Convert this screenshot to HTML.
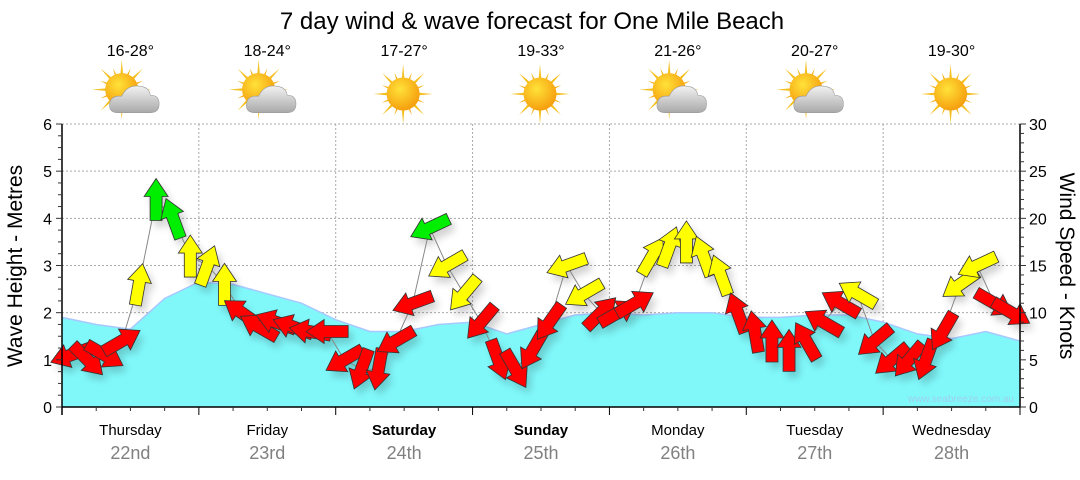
<!DOCTYPE html>
<html><head><meta charset="utf-8"><style>
body{margin:0;background:#fff;font-family:"Liberation Sans",Arial,sans-serif}
svg text{font-family:"Liberation Sans",Arial,sans-serif}
</style></head><body>
<svg id="c" width="1080" height="475" viewBox="0 0 1080 475" xmlns="http://www.w3.org/2000/svg">
<defs>
<radialGradient id="sunG" cx="0.4" cy="0.35" r="0.7"><stop offset="0" stop-color="#ffe23a"/><stop offset="1" stop-color="#f59a0a"/></radialGradient>
<linearGradient id="cloudG" x1="0" y1="0" x2="0" y2="1"><stop offset="0" stop-color="#f2f2f2"/><stop offset="1" stop-color="#a9a9a9"/></linearGradient>
<filter id="sh" x="-50%" y="-50%" width="200%" height="200%"><feGaussianBlur stdDeviation="4"/></filter>
</defs>
<text x="532" y="29" font-size="24" text-anchor="middle" fill="#000">7 day wind &amp; wave forecast for One Mile Beach</text>
<g id="grid"></g>
<g id="wave"></g>
<g id="shadows" opacity="0.18"></g>
<g id="windline"></g>
<g id="arrows"></g>
<g id="axes"></g>
<g id="topg"></g>
<text x="1014" y="402" font-size="10" text-anchor="end" fill="#9fd0ee">www.seabreeze.com.au</text>
<text transform="translate(22,266) rotate(-90)" font-size="21" text-anchor="middle">Wave Height - Metres</text>
<text transform="translate(1060,266) rotate(90)" font-size="21" text-anchor="middle">Wind Speed - Knots</text>
</svg>
<script>
const days=["Thursday","Friday","Saturday","Sunday","Monday","Tuesday","Wednesday"];
const dates=["22nd","23rd","24th","25th","26th","27th","28th"];
const temps=["16-28°","18-24°","17-27°","19-33°","21-26°","20-27°","19-30°"];
const cloudy=[1,1,0,0,1,1,0];
const boldDays=[0,0,1,1,0,0,0];
const waveHeights=[1.9,1.75,1.65,2.3,2.65,2.6,2.4,2.2,1.85,1.6,1.6,1.75,1.8,1.55,1.75,1.95,2.0,1.95,2.0,2.0,1.9,1.9,1.95,1.95,1.8,1.55,1.45,1.6,1.4];
const windSpeeds=[5.5,5,5.5,7,13,22,20,16, 15,13,10,8.5,9,8.5,8,8, 5,4,4,7,11,19,15,12, 9,5,4,6,9,15,12,10, 10,11,16,17,17.5,16,14,10, 8,7,6,7,9,11,12,7, 5,5,5,8,13,15,11,10];
const windDirs=[250,135,120,60,10,0,340,0, 20,0,305,300,290,290,280,270, 240,200,190,240,250,245,240,220, 220,160,150,210,215,250,240,45, 60,60,30,20,0,340,340,340, 350,0,0,330,300,300,300,230, 230,220,200,210,235,245,120,120];
const waveTicks=[0,1,2,3,4,5,6];
const windTicks=[0,5,10,15,20,25,30];

const NS="http://www.w3.org/2000/svg";
const X0=62,X1=1020,Y0=407,Y1=124,DW=(X1-X0)/7;
const xDay=d=>X0+d*DW;
const yWave=v=>Y0-(v/6)*(Y0-Y1);
const yWind=v=>Y0-(v/30)*(Y0-Y1);
const xSlot=i=>X0+(i+0.5)*DW/8;
const xWave=i=>X0+i*(X1-X0)/(waveHeights.length-1);
function mk(tag,attrs,parent,txt){const e=document.createElementNS(NS,tag);for(const k in attrs)e.setAttribute(k,attrs[k]);if(txt!==undefined)e.textContent=txt;parent.appendChild(e);return e;}
const G=id=>document.getElementById(id);

for(const t of waveTicks){if(t===0)continue;const l=mk('line',{x1:X0,x2:X1,y1:yWave(t),y2:yWave(t),stroke:'#aaa','stroke-dasharray':'2,2'},G('grid'));

}
for(let d=1;d<7;d++){const l=mk('line',{x1:xDay(d),x2:xDay(d),y1:Y1,y2:Y0,stroke:'#aaa','stroke-dasharray':'2,2'},G('grid'));

}

let p=`M${X0},${Y0}`;waveHeights.forEach((h,i)=>{p+=` L${xWave(i).toFixed(1)},${yWave(h).toFixed(1)}`});p+=` L${X1},${Y0} Z`;
const wa=mk('path',{d:p,fill:'#80f8fa'},G('wave'));


let pl='';waveHeights.forEach((h,i)=>{pl+=(i?' L':'M')+xWave(i).toFixed(1)+','+yWave(h).toFixed(1)});
const wl=mk('path',{d:pl,fill:'none',stroke:'#a8c8ff','stroke-width':1.5},G('wave'));



let wp='';windSpeeds.forEach((s,i)=>{wp+=(i?' L':'M')+xSlot(i).toFixed(1)+','+yWind(s).toFixed(1)});
const wln=mk('path',{d:wp,fill:'none',stroke:'#888','stroke-width':1},G('windline'));



const shape="0,-21 12,-3 6,-3 6,21 -6,21 -6,-3 -12,-3";
windSpeeds.forEach((s,i)=>{
  const x=xSlot(i),y=yWind(s),a=windDirs[i];
  const col=s>=18.5?'#00ee00':(s>=12?'#ffff00':'#ff0000');
  mk('polygon',{points:shape,transform:`translate(${x+4},${y+6}) rotate(${a})`,fill:'#000',filter:'url(#sh)'},G('shadows'));
  const ar=mk('polygon',{points:shape,transform:`translate(${x},${y}) rotate(${a})`,fill:col,stroke:'#333','stroke-width':0.8},G('arrows'));
  
  
});

const ax=G('axes');
mk('line',{x1:X0,x2:X0,y1:Y1,y2:Y0+8,stroke:'#000','stroke-width':1.5},ax);
mk('line',{x1:X1,x2:X1,y1:Y1,y2:Y0,stroke:'#000','stroke-width':1.5},ax);
mk('line',{x1:X0,x2:X1,y1:Y0,y2:Y0,stroke:'#000','stroke-width':1.5},ax);
for(let v=0;v<=24;v++){const y=yWave(v/4);mk('line',{x1:X0-(v%4?4:6),x2:X0,y1:y,y2:y,stroke:'#333'},ax);}
for(const t of waveTicks){const e=mk('text',{x:X0-10,y:yWave(t)+6,'font-size':16,'text-anchor':'end'},ax,String(t));

}
for(let v=0;v<=30;v++){const y=yWind(v);mk('line',{x1:X1,x2:X1+(v%5?4:6),y1:y,y2:y,stroke:'#333'},ax);}
for(const t of windTicks){const e=mk('text',{x:X1+9,y:yWind(t)+6,'font-size':16},ax,String(t));

}
for(let q=0;q<=28;q++){const x=X0+q*DW/4;if(q%4===0)mk('line',{x1:x,x2:x,y1:Y0,y2:Y0+8,stroke:'#000'},ax);else mk('line',{x1:x,x2:x,y1:Y0,y2:Y0+4,stroke:'#333'},ax);}
days.forEach((d,i)=>{const cx=xDay(i)+DW/2;
  const t=mk('text',{x:cx,y:435,'font-size':15,'text-anchor':'middle','font-weight':boldDays[i]?'bold':'normal'},ax,d);
  
  
  const t2=mk('text',{x:cx,y:459,'font-size':18,'text-anchor':'middle',fill:'#808080'},ax,dates[i]);
  
  
});

const topG=G('topg');
temps.forEach((tp,i)=>{const cx=xDay(i)+DW/2;
  const t=mk('text',{x:cx,y:56,'font-size':16,'text-anchor':'middle'},topG,tp);
  
  
  const g=mk('g',{transform:`translate(${cx-1},94) scale(1.1)`},topG);
  
  
  const sx=cloudy[i]?-7:0,sy=cloudy[i]?-4:0;
  for(let k=0;k<16;k++){const a=k*22.5,L=k%2?21:27;mk('polygon',{points:`-2.5,0 2.5,0 0,-${L}`,transform:`translate(${sx},${sy}) rotate(${a})`,fill:k%2?'#f7b21a':'#f4c020'},g);}
  mk('circle',{cx:sx,cy:sy,r:15,fill:'url(#sunG)'},g);
  if(cloudy[i]){mk('path',{d:'M-10,17 Q-19,17 -18,9 Q-17,1 -7,2 Q-2,-9 10,-7 Q18,-6 19,1 Q27,1 27,9 Q27,17 19,17 Z',fill:'url(#cloudG)',stroke:'#999','stroke-width':0.5},g);}
});
</script>
</body></html>
